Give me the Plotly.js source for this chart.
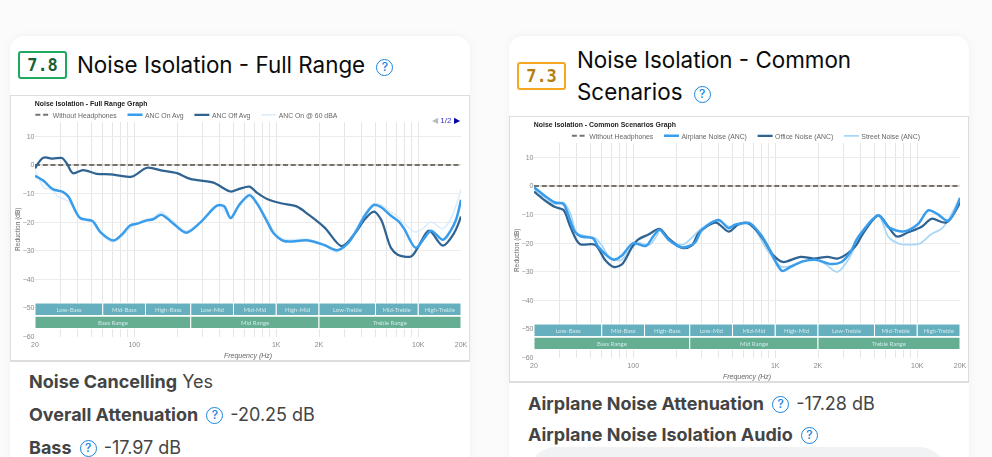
<!DOCTYPE html>
<html>
<head>
<meta charset="utf-8">
<script src="https://cdn.plot.ly/plotly-3.0.1.min.js"></script>
<style>
html, body { margin: 0; padding: 0; width: 992px; height: 457px; overflow: hidden; background: #fbfbfb; font-family: Inter, sans-serif; }
.card { position: absolute; top: 36px; width: 460px; height: 460px; background: #fff; border-radius: 14px; box-shadow: 0 0 10px rgba(0,0,0,.05); }
.score { position: absolute; box-sizing: border-box; width: 49px; height: 28px; border: 2px solid; border-radius: 3px; font: bold 17px/24px "DejaVu Sans Mono", monospace; text-align: center; }
.title { position: absolute; font-size: 22.4px; line-height: 32px; color: #0b0b0b; }
.row { position: absolute; font-size: 18px; line-height: 24px; color: #444; white-space: nowrap; }
.row b { font-weight: 700; }
.help { display: inline-block; box-sizing: border-box; width: 17px; height: 17px; border: 1.6px solid #1a85dd; border-radius: 50%; color: #1a85dd; font-size: 12px; line-height: 14px; text-align: center; vertical-align: 2px; margin: 0 2px 0 3px; font-weight: 500; }
.frame { position: absolute; width: 920px; height: 534px; transform: scale(.5); transform-origin: 0 0; filter: blur(1.4px); }
.edge { position: absolute; box-sizing: border-box; width: 460px; height: 267px; border: 1px solid #ddd; border-bottom-width: 2px; pointer-events: none; }
.pill { position: absolute; left: 528px; top: 447px; width: 419px; height: 60px; border-radius: 28px; background: #f0f2f4; }
</style>
</head>
<body>
<div class="card" style="left:10px"></div>
<div class="card" style="left:509px"></div>

<div class="score" style="left:18px;top:51px;border-color:#1fa860;color:#1c5f36">7.8</div>
<div class="title" style="left:77px;top:49px">Noise Isolation - Full Range <span class="help" style="margin-left:5px">?</span></div>
<div id="full" class="frame" style="left:10px;top:95px"></div>
<div class="edge" style="left:10px;top:95px"></div>
<div class="row" style="left:29px;top:370px"><b>Noise Cancelling</b> Yes</div>
<div class="row" style="left:29px;top:403px"><b>Overall Attenuation</b> <span class="help">?</span> -20.25 dB</div>
<div class="row" style="left:29px;top:436px"><b>Bass</b> <span class="help">?</span> -17.97 dB</div>

<div class="score" style="left:517px;top:62px;border-color:#f5a623;color:#b27f12">7.3</div>
<div class="title" style="left:577px;top:44px">Noise Isolation - Common<br>Scenarios <span class="help" style="margin-left:5px">?</span></div>
<div id="common" class="frame" style="left:509px;top:116px"></div>
<div class="edge" style="left:509px;top:116px"></div>
<div class="row" style="left:528px;top:392px"><b>Airplane Noise Attenuation</b> <span class="help">?</span> -17.28 dB</div>
<div class="row" style="left:528px;top:423px"><b>Airplane Noise Isolation Audio</b> <span class="help">?</span></div>
<div class="pill"></div>

<script>
// values, Hz / dB
var gridHz = [20,30,40,50,60,70,80,90,100,200,300,400,500,600,700,800,900,1000,2000,3000,4000,5000,6000,7000,8000,9000,10000,20000];
var gridText = ['20','','','','','','','','100','','','','','','','','','1K','2K','','','','','','','','10K','20K'];
var dbTicks = [10,0,-10,-20,-30,-40,-50,-60];

var subBands = ['Low-Bass','Mid-Bass','High-Bass','Low-Mid','Mid-Mid','High-Mid','Low-Treble','Mid-Treble','High-Treble'];
var subEdges = [20,60,120,250,500,1000,2000,5000,10000,20000];
var rangeBands = ['Bass Range','Mid Range','Treble Range'];
var rangeEdges = [20,250,2000,20000];

var flatHz = [20,20000];
var flatDb = [0,0];

// full range graph
var onAvgHz = [20,22.9,26.7,31.6,34.3,41.6,50.8,57.8,71.3,82,93.5,104,122,136,155,186,232,291,385,430,477,548,649,730,870,955,1130,1680,2180,2680,3170,3680,4200,4875,5480,6425,7300,7950,9600,10970,12300,14900,16900,18500,20000];
var onAvgDb = [-3.8,-5.5,-8.5,-9.5,-11,-18.6,-19.6,-23.5,-26.4,-24.3,-21.2,-20.6,-19.4,-19,-17.4,-20.3,-23.7,-20.2,-14.2,-14.5,-18.6,-14,-10.6,-13.4,-20.2,-23.8,-26.6,-26.4,-28,-29.8,-27.6,-22.9,-17.8,-14,-14.8,-17.8,-19.8,-22.3,-29,-25.8,-23,-26.2,-23,-19,-12.2];
var offAvgHz = [20,22.9,26.7,31,33.4,37,43.6,54.4,68,96,123,157,200,248,361,477,548,649,730,870,1080,1390,1690,2200,2900,3700,4200,4875,5460,6425,7160,8900,9910,11900,14900,17900,20000];
var offAvgDb = [-1.2,2.5,2.2,2.4,0.6,-2.9,-1.8,-3.1,-3.3,-4.1,-1,-2,-2.9,-4.9,-6.2,-9.3,-8.4,-7.6,-9.7,-12,-13.4,-14.5,-17.4,-22,-28.4,-23,-19,-16.3,-19,-29,-31.4,-32,-29,-23,-28.2,-23.8,-18];
var on60Hz = [20,21.5,23,26,29,32,35,42,50,58,70,82,94,105,122,136,155,186,232,291,385,477,548,649,730,870,955,1130,1680,2180,2680,3170,3680,4200,4875,5480,6425,7300,7950,9600,10970,12300,14900,16900,18500,20000];
var on60Db = [-2,-5,-8,-8.5,-11,-12,-13,-19,-20,-24,-27,-25,-22,-20.5,-19,-18.5,-16.5,-19.5,-23,-20,-14,-18,-14,-10,-13.4,-19,-23,-26,-26,-28,-30.5,-27,-22,-17,-13.5,-14,-16.5,-18.5,-20.5,-23.5,-22,-20,-22.3,-19,-14,-8.7];

// common scenarios graph
var airplaneHz = [20,23.9,28.2,32.2,34.5,38.8,43,52,57,72.5,83.3,100,122.5,138,153,177,221,270,305,400,470,520,625,660,790,890,1120,1280,1590,1920,2460,2900,3380,3720,4100,5330,6300,8060,10080,12000,13900,16500,20000];
var airplaneDb = [-0.5,-3.5,-5.8,-6.3,-9.5,-16,-17.7,-18.3,-21.4,-25.8,-24.3,-20,-21,-17.7,-15.3,-18.8,-21.5,-20,-15.3,-11.9,-14.8,-13.6,-13,-13,-17,-21.2,-29.7,-28.3,-26.3,-25.8,-27.3,-26.7,-23.2,-19,-16,-10.3,-14.5,-15.9,-13.4,-8.5,-9.9,-12.2,-4.3];
var officeHz = [20,23.9,28.2,32.2,36,42,53.8,63.6,72.5,83.3,97.8,108,128,153,177,221,259,289,381,470,552,640,750,830,970,1130,1510,1860,2340,2740,3240,3720,4100,5330,6120,7200,8570,10800,12600,16000,20000];
var officeDb = [-2,-5.1,-7.4,-8.4,-14.2,-20.3,-20.6,-26,-28.3,-27.4,-21.5,-18.8,-17,-15,-18.3,-21.7,-20.8,-16.5,-12.8,-16,-13.4,-13,-16,-19,-24.3,-26.6,-24.8,-25.4,-24.8,-25.4,-23.6,-20.7,-17,-10.3,-13.6,-17.7,-16.3,-14.2,-11.5,-12.8,-5.8];
var streetHz = [20,21.5,23.9,28.2,32.2,36,40,45,54,60,68,82,98,110,130,148,153,177,221,305,400,470,552,660,880,1120,1590,1920,2250,2740,3240,3720,5330,6300,7500,8570,10400,12600,15000,20000];
var streetDb = [-0.5,-3,-4,-6.3,-5.8,-9.5,-16.5,-17.4,-18.3,-20.8,-24.8,-26,-21.4,-20,-20.6,-17,-15.3,-18.6,-20.6,-14.8,-12.4,-14.2,-13.6,-13,-22.5,-28.3,-26.3,-25.4,-27.3,-30.1,-26.1,-20.7,-10.7,-18,-20.3,-20.5,-20.2,-16.8,-14.8,-4];

var config = {displayModeBar: false, staticPlot: true};
var pad = '\u00a0\u00a0\u00a0'; // legend has no per-item gap option

function lineTrace(name, hz, db, color, width, rank, dash) {
    return {
        type: 'scatter', mode: 'lines', name: name + pad, x: hz, y: db, legendrank: rank,
        line: {color: color, width: width, shape: dash ? 'linear' : 'spline', smoothing: 0.9, dash: dash || 'solid'},
        hoverinfo: 'skip'
    };
}

// thin line under the dashes of the 0 dB reference
function flatBase() {
    return {type: 'scatter', mode: 'lines', x: flatHz, y: flatDb, showlegend: false, hoverinfo: 'skip',
        line: {color: '#cfcabd', width: 2}};
}

function bandRow(names, edges, color, y0, y1) {
    var shapes = [], notes = [];
    for (var i = 0; i < names.length; i++) {
        shapes.push({type: 'rect', xref: 'x', yref: 'y', layer: 'above', x0: edges[i], x1: edges[i + 1], y0: y0, y1: y1,
            fillcolor: color, line: {color: '#ffffff', width: 2}});
        notes.push({xref: 'x', yref: 'y', showarrow: false, text: names[i],
            x: (Math.log10(edges[i]) + Math.log10(edges[i + 1])) / 2, y: (y0 + y1) / 2,
            font: {family: 'Lato, sans-serif', size: 12, color: '#cfe8ea'}});
    }
    return {shapes: shapes, notes: notes};
}

function drawGraph(id, title, traces, legendX, extraNotes) {
    var sub = bandRow(subBands, subEdges, '#66afbe', -52.7, -48.3);
    var main = bandRow(rangeBands, rangeEdges, '#65ae92', -57.2, -52.9);
    Plotly.newPlot(id, traces, {
        width: 920, height: 534,
        margin: {l: 50, r: 18, t: 54, b: 51},
        paper_bgcolor: '#ffffff', plot_bgcolor: '#ffffff',
        font: {family: '"Liberation Sans", Arial, sans-serif', size: 14, color: '#777'},
        title: {text: '<b>' + title + '</b>', x: 0.054, xanchor: 'left', y: 0.966, yanchor: 'middle', font: {size: 13.8, color: '#222'}},
        showlegend: true,
        legend: {orientation: 'h', x: legendX, xanchor: 'left', y: 1.033, yanchor: 'middle',
            font: {size: 13.7, color: '#666'}, bgcolor: 'rgba(0,0,0,0)', traceorder: 'normal'},
        xaxis: {type: 'log', range: [Math.log10(20), Math.log10(20000)], tickmode: 'array', tickvals: gridHz, ticktext: gridText,
            tickangle: 0, showgrid: true, gridcolor: '#e6e6e6', gridwidth: 2, zeroline: false, showline: false, ticks: '',
            ticklabelstandoff: 6, tickfont: {size: 14, color: '#8a8a8a'},
            title: {text: '<i>Frequency (Hz)</i>', standoff: 10, font: {size: 14, color: '#666'}}},
        yaxis: {range: [-60, 15], tickmode: 'array', tickvals: dbTicks, showgrid: true, gridcolor: '#ececec', gridwidth: 2,
            zeroline: false, showline: false, ticks: '', tickfont: {size: 14, color: '#8a8a8a'},
            title: {text: 'Reduction (dB)', standoff: 2, font: {size: 13, color: '#666'}}},
        shapes: sub.shapes.concat(main.shapes),
        annotations: sub.notes.concat(main.notes).concat(extraNotes)
    }, config);
}

drawGraph('full', 'Noise Isolation - Full Range Graph', [
    flatBase(),
    lineTrace('Without Headphones', flatHz, flatDb, '#77736c', 4, 1, '10px,5.5px'),
    lineTrace('ANC On @ 60 dBA', on60Hz, on60Db, '#dbecfa', 3, 4),
    lineTrace('ANC Off Avg', offAvgHz, offAvgDb, '#2f6391', 4.5, 3),
    lineTrace('ANC On Avg', onAvgHz, onAvgDb, '#3a9dec', 5, 2)
], -0.005, [{
    xref: 'paper', yref: 'paper', x: 1, y: 1.033, xanchor: 'right', showarrow: false,
    text: '<span style="color:#bbbbbb">◀</span> <span style="color:#3333cc">1/2</span> <span style="color:#0000aa">▶</span>',
    font: {size: 16}
}]);

drawGraph('common', 'Noise Isolation - Common Scenarios Graph', [
    flatBase(),
    lineTrace('Without Headphones', flatHz, flatDb, '#77736c', 4, 1, '10px,5.5px'),
    lineTrace('Street Noise (ANC)', streetHz, streetDb, '#a8d6f6', 3.5, 4),
    lineTrace('Office Noise (ANC)', officeHz, officeDb, '#2f6391', 4.5, 3),
    lineTrace('Airplane Noise (ANC)', airplaneHz, airplaneDb, '#3a9dec', 5, 2)
], 0.083, []);
</script>
</body>
</html>
